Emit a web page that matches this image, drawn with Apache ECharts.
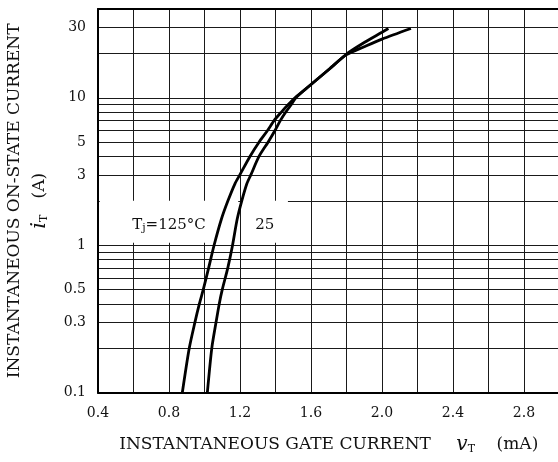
<!DOCTYPE html>
<html>
<head>
<meta charset="utf-8">
<script src="https://cdn.jsdelivr.net/npm/echarts@6/dist/echarts.min.js"></script>
<style>
  html, body { margin: 0; padding: 0; background: #fff; }
  #chart { width: 558px; height: 462px; }
</style>
</head>
<body>
<div id="chart"></div>
<script>
// tick labels and grid
const xTicks = [0.4, 0.8, 1.2, 1.6, 2.0, 2.4, 2.8]
const yTicks = [0.1, 0.3, 0.5, 1, 3, 5, 10, 30]
const yGrid = [0.1, 0.2, 0.3, 0.4, 0.5, 0.6, 0.7, 0.8, 0.9,
  1, 2, 3, 4, 5, 6, 7, 8, 9, 10, 20, 30, 40]

// Tj = 125 C
const curve125 = [[0.875, 0.1], [0.914, 0.2], [0.946, 0.3], [0.971, 0.4], [0.993, 0.5],
  [1.023, 0.7], [1.054, 1], [1.095, 1.5], [1.132, 2], [1.172, 2.62], [1.199, 3],
  [1.256, 4], [1.307, 5], [1.355, 6], [1.392, 7], [1.433, 8], [1.472, 9], [1.51, 10],
  [1.6, 12.3], [1.707, 15.8], [1.8, 19.6], [1.9, 22.2], [2.0, 25], [2.163, 29.5]]
// Tj = 25 C
const curve25 = [[1.016, 0.1], [1.041, 0.2], [1.065, 0.3], [1.083, 0.4], [1.1, 0.5],
  [1.131, 0.7], [1.158, 1], [1.184, 1.5], [1.21, 2], [1.239, 2.62], [1.261, 3],
  [1.307, 4], [1.358, 5], [1.397, 6], [1.427, 7], [1.458, 8], [1.489, 9], [1.515, 10],
  [1.6, 12.3], [1.707, 15.8], [1.8, 19.8], [1.9, 23.7], [2.0, 27.8], [2.036, 29.5]]

const font = 'DejaVu Serif'
const gridColor = '#1a1a1a'

let myChart = echarts.init(document.getElementById('chart'), null, {renderer: 'canvas'})

myChart.setOption({
  animation: false,
  backgroundColor: '#fff',
  grid: {left: 98, top: 9, width: 461.5, height: 383.7, outerBoundsMode: 'none', containLabel: false},
  xAxis: [{
    type: 'value',
    min: 0.4,
    max: 3.0,
    interval: 0.2,
    axisLine: {lineStyle: {color: '#000', width: 2}},
    axisTick: {show: false},
    splitLine: {show: true, lineStyle: {color: gridColor, width: 1}},
    axisLabel: {
      customValues: xTicks,
      margin: 14,
      color: '#111',
      fontFamily: font,
      fontSize: 14,
      formatter: (v) => v.toFixed(1)
    },
    name: '{n|INSTANTANEOUS GATE CURRENT}{v|    v}{s|T}{n|    (mA)}',
    nameLocation: 'middle',
    nameGap: 42,
    nameTextStyle: {
      rich: {
        n: {fontFamily: font, fontSize: 17, color: '#111'},
        v: {fontFamily: font, fontSize: 20, fontStyle: 'italic', color: '#111'},
        s: {fontFamily: font, fontSize: 11, color: '#111', padding: [9, 0, 0, 0]}
      }
    }
  }, {
    type: 'value',
    position: 'top',
    min: 0.4,
    max: 3.0,
    axisLine: {show: true, lineStyle: {color: '#000', width: 2}},
    axisTick: {show: false},
    axisLabel: {show: false},
    splitLine: {show: false}
  }],
  yAxis: {
    type: 'log',
    logBase: 10,
    min: 0.1,
    max: 40,
    axisLine: {show: true, lineStyle: {color: '#000', width: 2}},
    axisTick: {show: false, customValues: yGrid},
    splitLine: {show: true, lineStyle: {color: gridColor, width: 1}},
    axisLabel: {
      customValues: yTicks,
      margin: 12,
      color: '#111',
      fontFamily: font,
      fontSize: 14,
      formatter: (v) => String(v)
    },
    name: '{n|INSTANTANEOUS ON-STATE CURRENT}\n{i|i}{s|T}{n|   (A)}',
    nameLocation: 'middle',
    nameGap: 46,
    nameTextStyle: {
      lineHeight: 25,
      rich: {
        n: {fontFamily: font, fontSize: 17, color: '#111', lineHeight: 25},
        i: {fontFamily: font, fontSize: 21, fontStyle: 'italic', color: '#111', lineHeight: 25},
        s: {fontFamily: font, fontSize: 11, color: '#111', padding: [9, 0, 0, 0], lineHeight: 25}
      }
    }
  },
  series: [{
    // white boxes behind the curve labels
    type: 'line',
    data: [],
    z: 2,
    markArea: {
      silent: true,
      itemStyle: {color: '#fff', opacity: 1},
      label: {
        show: true,
        position: 'inside',
        offset: [0, 3],
        color: '#111',
        fontFamily: font,
        fontSize: 15,
        rich: {
          t: {fontFamily: font, fontSize: 15, color: '#111'},
          s: {fontFamily: font, fontSize: 11, color: '#111', padding: [7, 0, 0, 0]}
        }
      },
      data: [
        [{xAxis: 0.41, yAxis: 1.04, name: '{t|T}{s|j}{t|=125°C}'}, {xAxis: 1.19, yAxis: 2}],
        [{xAxis: 1.21, yAxis: 1.04, name: '25'}, {xAxis: 1.47, yAxis: 2}]
      ]
    }
  }, {
    name: '125',
    type: 'line',
    data: curve125,
    z: 4,
    smooth: 0.25,
    showSymbol: false,
    lineStyle: {color: '#000', width: 2.8}
  }, {
    name: '25',
    type: 'line',
    data: curve25,
    z: 4,
    smooth: 0.25,
    showSymbol: false,
    lineStyle: {color: '#000', width: 2.8}
  }]
})
</script>
</body>
</html>
